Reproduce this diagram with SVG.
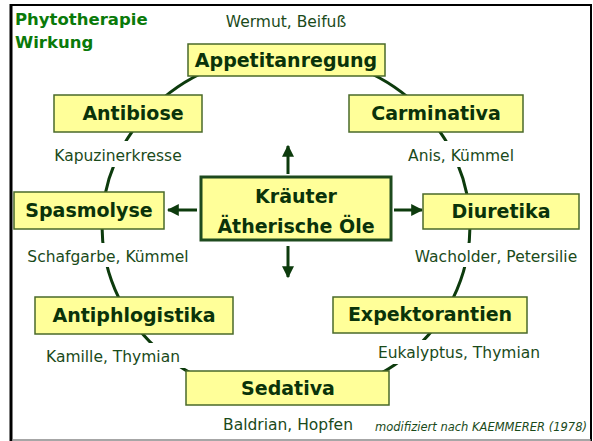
<svg xmlns="http://www.w3.org/2000/svg" width="593" height="441" viewBox="0 0 593 441">
<defs>
<marker id="ah" viewBox="0 0 10 10" refX="9" refY="5" markerWidth="4" markerHeight="4" orient="auto" markerUnits="strokeWidth">
<path d="M0,0 L10,5 L0,10 Z" fill="#0d3b0d"/>
</marker>
<style>
.box{fill:#ffff99;stroke:#4a6a2a;stroke-width:1.5}
.cbox{fill:#ffff99;stroke:#1e4a1e;stroke-width:3}
.bl{font-family:"DejaVu Sans",Verdana,sans-serif;font-weight:bold;font-size:19px;fill:#0a330a;text-anchor:middle}
.lb{font-family:"DejaVu Sans",Verdana,sans-serif;font-size:15.5px;fill:#1a4a1a;text-anchor:middle}
.bg{fill:#ffffff}
.ttl{font-family:"DejaVu Sans",sans-serif;font-weight:bold;font-size:16.5px;fill:#0a7a0a}
.arr{stroke:#0d3b0d;stroke-width:3;fill:none;marker-end:url(#ah)}
</style>
</defs>
<rect x="0" y="0" width="593" height="441" fill="#ffffff"/>
<g id="frame">
<line x1="11" y1="4" x2="11" y2="441" stroke="#000" stroke-width="3"/>
<line x1="10" y1="5" x2="592" y2="5" stroke="#000" stroke-width="2"/>
<line x1="591" y1="4" x2="591" y2="441" stroke="#000" stroke-width="2"/>
<line x1="12" y1="440" x2="591" y2="440" stroke="#888" stroke-width="1.5"/>
</g>
<g id="title">
<text class="ttl" x="15" y="25">Phytotherapie</text>
<text class="ttl" x="15" y="48">Wirkung</text>
</g>
<g id="connectors">
<ellipse cx="286" cy="226" rx="184" ry="172" fill="none" stroke="#0d3b0d" stroke-width="3"/>
<line class="arr" x1="288" y1="174" x2="288" y2="146"/>
<line class="arr" x1="288" y1="246" x2="288" y2="277"/>
<line class="arr" x1="197" y1="210" x2="168" y2="210"/>
<line class="arr" x1="394" y1="210" x2="422" y2="210"/>
</g>
<g id="center">
<rect class="cbox" x="201" y="177" width="190" height="63"/>
<text class="bl" x="296" y="203">Kräuter</text>
<text class="bl" x="296" y="233">Ätherische Öle</text>
</g>
<g id="appetitanregung">
<rect class="box" x="188" y="44" width="197" height="32"/>
<text class="bl" x="286" y="67">Appetitanregung</text>
<text class="lb" x="286" y="27">Wermut, Beifuß</text>
</g>
<g id="antibiose">
<rect class="box" x="54" y="95" width="148" height="37"/>
<text class="bl" x="133" y="120">Antibiose</text>
<rect class="bg" x="50" y="141" width="137" height="26"/>
<text class="lb" x="118" y="161">Kapuzinerkresse</text>
</g>
<g id="carminativa">
<rect class="box" x="349" y="95" width="174" height="37"/>
<text class="bl" x="436" y="120">Carminativa</text>
<rect class="bg" x="404" y="141" width="114" height="26"/>
<text class="lb" x="461" y="161">Anis, Kümmel</text>
</g>
<g id="spasmolyse">
<rect class="box" x="14" y="192" width="150" height="37"/>
<text class="bl" x="89" y="217">Spasmolyse</text>
<rect class="bg" x="22" y="243" width="174" height="24"/>
<text class="lb" x="108" y="262">Schafgarbe, Kümmel</text>
</g>
<g id="diuretika">
<rect class="box" x="423" y="194" width="156" height="35"/>
<text class="bl" x="501" y="218">Diuretika</text>
<rect class="bg" x="404" y="243" width="184" height="24"/>
<text class="lb" x="496" y="262">Wacholder, Petersilie</text>
</g>
<g id="antiphlogistika">
<rect class="box" x="35" y="297" width="198" height="37"/>
<text class="bl" x="134" y="322">Antiphlogistika</text>
<rect class="bg" x="41" y="343" width="144" height="25"/>
<text class="lb" x="113" y="362">Kamille, Thymian</text>
</g>
<g id="expektorantien">
<rect class="box" x="333" y="297" width="194" height="36"/>
<text class="bl" x="430" y="321">Expektorantien</text>
<rect class="bg" x="370" y="340" width="178" height="24"/>
<text class="lb" x="459" y="358">Eukalyptus, Thymian</text>
</g>
<g id="sedativa">
<rect class="box" x="186" y="371" width="203" height="34"/>
<text class="bl" x="288" y="395">Sedativa</text>
<text class="lb" x="288" y="430">Baldrian, Hopfen</text>
</g>
<text x="481" y="431" font-family="DejaVu Sans,Verdana,sans-serif" font-style="italic" font-size="11.5px" fill="#1a4a1a" text-anchor="middle">modifiziert nach KAEMMERER (1978)</text>
</svg>
